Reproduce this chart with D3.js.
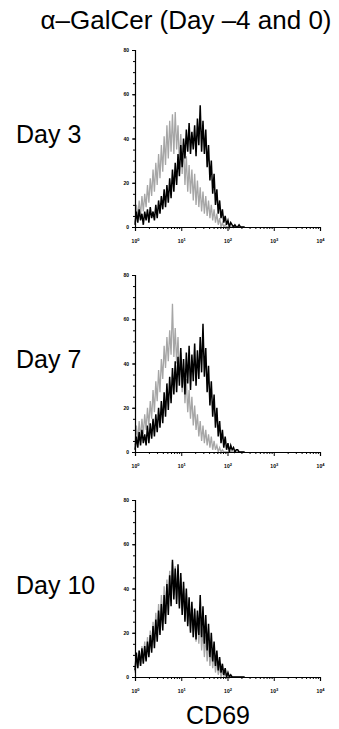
<!DOCTYPE html>
<html>
<head>
<meta charset="utf-8">
<script src="https://cdn.jsdelivr.net/npm/d3@7"></script>
<style>
  html, body { margin: 0; padding: 0; background: #fff; }
  svg { display: block; }
  text { font-family: "Liberation Sans", Arial, Helvetica, sans-serif; }
</style>
</head>
<body>
<svg id="chart" width="339" height="729"></svg>
<script>
// CD69 histograms (counts per log channel), channel i sits at 10^(i * channelStep)
const channelStep = 0.03;
const dayLabels = ["Day 3", "Day 7", "Day 10"];
const yTicks = [0, 20, 40, 60, 80];
const decadeTicks = [1, 10, 100, 1000, 10000];

const day3Gray = [2,10,4,12,5,14,7,15,9,19, 11,22,14,26,16,29,19,33,22,37,
  25,41,28,46,31,48,34,51,33,52, 35,46,29,42,24,37,19,32,16,28,
  15,26,12,24,10,21,9,18,7,16, 6,14,5,12,4,10,3,8,2,6,
  1,4,0,2,0,1,0,0,0,0, 0,0,0,0,0,0,0,0,0,0];
const day3Black = [1,7,2,8,3,6,1,7,3,8, 2,9,4,7,3,10,4,12,6,14,
  8,17,9,19,11,22,13,26,16,29, 19,33,23,37,27,40,31,44,34,47,
  33,43,35,46,32,49,37,55,34,48, 33,44,27,37,21,30,15,24,10,17,
  6,12,4,8,2,5,1,3,0,2, 1,0,1,0,0,1,0,0,0,0];

const day7Gray = [3,12,5,14,6,15,8,17,10,20, 12,23,15,28,18,32,23,37,27,42,
  33,48,38,52,41,55,44,67,43,56, 40,52,34,45,27,38,22,33,18,28,
  15,25,12,21,10,17,7,14,5,12, 4,10,3,8,2,7,1,5,1,3,
  0,2,0,1,0,0,0,0,0,0, 0,0,0,0,0,0,0,0,0,0];
const day7Black = [1,7,2,9,3,10,4,8,3,12, 4,13,6,15,7,17,9,20,11,23,
  13,27,16,31,19,34,22,38,26,41, 27,43,30,47,29,42,26,45,31,48,
  28,44,32,49,30,46,33,52,36,58, 34,47,27,39,21,32,16,26,11,20,
  7,14,4,10,2,7,1,4,0,3, 1,2,0,1,1,0,0,0,0,0];

const day10Gray = [2,9,4,12,5,14,7,16,8,18, 10,21,13,25,16,29,19,33,22,37,
  25,41,29,44,33,48,35,52,37,50, 35,49,32,45,30,41,26,38,24,35,
  21,32,18,30,16,28,15,26,12,22, 9,19,7,16,5,13,4,11,2,8,
  1,5,0,3,0,2,0,1,0,0, 0,0,0,0,0,0,0,0,0,0];
const day10Black = [3,11,4,12,5,13,6,14,7,16, 9,19,11,23,13,26,16,30,19,33,
  21,37,24,42,28,46,32,53,35,49, 33,51,31,47,28,43,25,40,23,36,
  20,34,18,31,17,30,19,37,18,32, 15,28,12,24,9,20,7,16,5,12,
  3,9,2,6,1,4,0,2,0,1, 0,0,0,0,0,0,0,0,0,0];

const panels = [
  { label: dayLabels[0], gray: day3Gray, black: day3Black },
  { label: dayLabels[1], gray: day7Gray, black: day7Black },
  { label: dayLabels[2], gray: day10Gray, black: day10Black }
];

const svg = d3.select("#chart");
const plotLeft = 135, plotRight = 320, plotH = 177;
const panelTops = [50, 275, 500];
const labelBaselines = [143, 368, 594];
const fontStack = '"Liberation Sans", Arial, Helvetica, sans-serif';

svg.append("text")
  .attr("x", 186).attr("y", 29)
  .attr("text-anchor", "middle")
  .attr("font-size", 26)
  .text("α–GalCer (Day –4 and 0)");

const x = d3.scaleLog().domain([1, 10000]).range([plotLeft, plotRight]);

const minorX = [];
for (let k = 0; k < 4; k++) for (let m = 2; m <= 9; m++) minorX.push(m * Math.pow(10, k));
const minorY = d3.range(0, 81, 5);

panels.forEach((p, pi) => {
  const top = panelTops[pi];
  const y = d3.scaleLinear().domain([0, 80]).range([top + plotH, top]);
  const g = svg.append("g");

  // Histogram traces: control in grey underneath, treated in black on top
  const line = d3.line()
    .x((d, i) => x(Math.pow(10, i * channelStep)))
    .y(d => y(d));

  g.append("path").datum(p.gray)
    .attr("fill", "none").attr("stroke", "#a6a6a6")
    .attr("stroke-width", 1.3).attr("stroke-linejoin", "miter").attr("d", line);
  g.append("path").datum(p.black)
    .attr("fill", "none").attr("stroke", "#000")
    .attr("stroke-width", 1.5).attr("stroke-linejoin", "miter").attr("d", line);

  // Y axis
  g.append("g").attr("transform", `translate(${plotLeft},0)`)
    .call(d3.axisLeft(y).tickValues(minorY).tickSize(2).tickFormat(""))
    .call(a => a.select(".domain").remove());
  const ya = g.append("g").attr("transform", `translate(${plotLeft},0)`)
    .call(d3.axisLeft(y).tickValues(yTicks).tickSize(3).tickPadding(3));
  ya.selectAll("text").attr("font-size", 5).attr("font-weight", "bold")
    .attr("font-family", fontStack);

  // X axis (log, decades labelled as powers of ten)
  const xa0 = g.append("g").attr("transform", `translate(0,${top + plotH})`)
    .call(d3.axisBottom(x).tickValues(minorX).tickSize(2).tickFormat(""));
  xa0.select(".domain").remove();
  const xa = g.append("g").attr("transform", `translate(0,${top + plotH})`)
    .call(d3.axisBottom(x).tickValues(decadeTicks).tickSize(4).tickPadding(7).tickFormat(""));
  xa.selectAll(".tick").append("text")
    .attr("y", 16).attr("text-anchor", "middle")
    .attr("font-size", 5).attr("font-weight", "bold").attr("fill", "#000")
    .attr("font-family", fontStack)
    .each(function(d) {
      const t = d3.select(this);
      t.append("tspan").text("10");
      t.append("tspan").attr("dy", -2).attr("font-size", 4).text(Math.round(Math.log10(d)));
    });
  g.selectAll(".domain").attr("stroke", "#000").attr("stroke-width", 1.2);
  g.selectAll(".tick line").attr("stroke", "#000");

  // Row label
  svg.append("text")
    .attr("x", 16).attr("y", labelBaselines[pi])
    .attr("font-size", 25)
    .text(p.label);
});

svg.append("text")
  .attr("x", 218).attr("y", 724)
  .attr("text-anchor", "middle")
  .attr("font-size", 25)
  .text("CD69");
</script>
</body>
</html>
